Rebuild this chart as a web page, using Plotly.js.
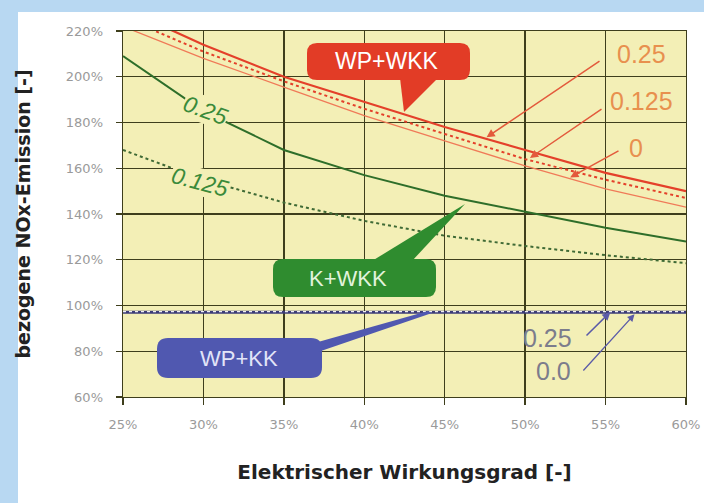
<!DOCTYPE html>
<html>
<head>
<meta charset="utf-8">
<script src="https://cdn.plot.ly/plotly-3.0.1.min.js"></script>
<style>
html,body{margin:0;padding:0;background:#ffffff;}
#wrap{position:relative;width:704px;height:503px;background:#b8d8f2;}
#inner{position:absolute;left:18px;top:12px;width:686px;height:491px;background:#ffffff;}
#chart{position:absolute;left:0;top:0;width:704px;height:503px;}
</style>
</head>
<body>
<div id="wrap"><div id="inner"></div><div id="chart"></div></div>
<script>
// Data (efficiency in %, relative NOx emission in %)
const eta = [25, 30, 35, 40, 45, 50, 55, 60];
const wpwkk_025  = [230, 214, 200, 189, 178, 168, 158, 150];
const wpwkk_0125 = [226, 211, 198, 186, 175, 164, 155, 147];
const wpwkk_0    = [222, 208, 195.5, 183, 172, 161, 151, 143];
const kwkk_025   = [209, 185, 168, 157, 148, 141, 134, 128];
const kwkk_0125  = [168, 155, 145, 137, 130.5, 126, 122, 118.5];
const wpkk_025   = [97.3, 97.3, 97.3, 97.3, 97.3, 97.3, 97.3, 97.3];
const wpkk_0     = [97.1, 97.1, 97.1, 97.1, 97.1, 97.1, 97.1, 97.1];
const xTicks = [25, 30, 35, 40, 45, 50, 55, 60];
const yTicks = [60, 80, 100, 120, 140, 160, 180, 200, 220];

const W = 704, H = 503;
const L = 123, R = 18, T = 31, B = 106;
const pw = W - L - R, ph = H - T - B;
const px = v => (v - L) / pw;          // pixel x -> paper
const py = v => (H - B - v) / ph;      // pixel y -> paper

function roundRect(x0, y0, x1, y1, r) {
  const X0 = px(x0), X1 = px(x1), Y0 = py(y0), Y1 = py(y1);
  const rx = r / pw, ry = r / ph;
  return `M ${X0 + rx},${Y0} L ${X1 - rx},${Y0} Q ${X1},${Y0} ${X1},${Y0 - ry} ` +
         `L ${X1},${Y1 + ry} Q ${X1},${Y1} ${X1 - rx},${Y1} L ${X0 + rx},${Y1} ` +
         `Q ${X0},${Y1} ${X0},${Y1 + ry} L ${X0},${Y0 - ry} Q ${X0},${Y0} ${X0 + rx},${Y0} Z`;
}
function poly(pts) {
  return 'M ' + pts.map(p => px(p[0]) + ',' + py(p[1])).join(' L ') + ' Z';
}

const red = '#e4402a', redLight = '#f07a58', navy = '#3c3c78';

const traces = [
  {x: eta, y: wpwkk_0, mode: 'lines', line: {color: redLight, width: 1.3}, name: 'WP+WKK 0'},
  {x: eta, y: wpwkk_0125, mode: 'lines', line: {color: red, width: 2, dash: 'dot'}, name: 'WP+WKK 0.125'},
  {x: eta, y: wpwkk_025, mode: 'lines', line: {color: red, width: 2.2}, name: 'WP+WKK 0.25'},
  {x: eta, y: kwkk_025, mode: 'lines', line: {color: '#2e6e2a', width: 2}, name: 'K+WKK 0.25'},
  {x: eta, y: kwkk_0125, mode: 'lines', line: {color: '#3f6a35', width: 2, dash: 'dot'}, name: 'K+WKK 0.125'},
  {x: eta, y: wpkk_0, mode: 'lines', line: {color: navy, width: 3}, name: 'WP+KK 0.0'},
  {x: eta, y: wpkk_025, mode: 'lines', line: {color: '#f0f0f4', width: 1.3, dash: 'dot'}, name: 'WP+KK 0.25'}
];

const shapes = [
  {type: 'path', xref: 'paper', yref: 'paper', path: roundRect(307, 43, 470, 80, 10), fillcolor: '#e23c26', line: {width: 0}},
  {type: 'path', xref: 'paper', yref: 'paper', path: poly([[400, 78], [438, 78], [404, 112]]), fillcolor: '#e23c26', line: {width: 0}},
  {type: 'path', xref: 'paper', yref: 'paper', path: roundRect(273, 259, 436, 297, 10), fillcolor: '#2f8c2f', line: {width: 0}},
  {type: 'path', xref: 'paper', yref: 'paper', path: poly([[372, 261], [412, 261], [465, 204]]), fillcolor: '#2f8c2f', line: {width: 0}},
  {type: 'path', xref: 'paper', yref: 'paper', path: roundRect(157, 338, 322, 378, 11), fillcolor: '#5058b0', line: {width: 0}},
  {type: 'path', xref: 'paper', yref: 'paper', path: poly([[318, 342], [318, 352], [432, 313], [428, 311]]), fillcolor: '#5058b0', line: {width: 0}}
];

const ff = 'DejaVu Sans, Verdana, sans-serif';
const lf = 'Liberation Sans, Arial, sans-serif';
function txt(x, y, text, size, color, extra) {
  return Object.assign({xref: 'paper', yref: 'paper', x: px(x), y: py(y), xanchor: 'center', yanchor: 'middle',
    text: text, showarrow: false, font: {family: lf, size: size, color: color}}, extra || {});
}
function arr(x, y, tx, ty, color, w) {
  return {x: x, y: y, xref: 'x', yref: 'y', text: '', showarrow: true, arrowhead: 2, arrowsize: 1.1,
    arrowwidth: w, arrowcolor: color, ax: tx, ay: ty, axref: 'pixel', ayref: 'pixel'};
}
const xPix = v => L + (v - 25) / 35 * pw;
const yPix = v => H - B - (v - 60) / 160 * ph;

const annotations = [
  txt(387, 61, 'WP+WKK', 23, '#ffffff'),
  txt(348, 278, 'K+WKK', 22, '#e2f3dc'),
  txt(239, 358, 'WP+KK', 22, '#e2e4f8'),
  txt(205, 110, '<i>0.25</i>', 23, '#3a8a3a', {textangle: 20, bgcolor: '#f3efb6', borderpad: 0}),
  txt(200, 182, '<i>0.125</i>', 23, '#3a8a3a', {textangle: 15, bgcolor: '#f3efb6', borderpad: 0}),
  txt(641, 54, '0.25', 25, '#e8904e'),
  txt(641, 101, '0.125', 25, '#e8904e'),
  txt(636, 148, '0', 25, '#e8904e', {bgcolor: '#f3efb6', borderpad: 0}),
  txt(547, 338, '0.25', 25, '#7c7c8c'),
  txt(553, 371, '0.0', 25, '#7c7c8c')
];
const arrows = [
  [47.6, 173.5, 601, 60, '#e35a3c', 1.5],
  [50.3, 164.5, 603, 108, '#e35a3c', 1.5],
  [52.8, 156, 620, 150, '#e35a3c', 1.5],
  [55.3, 97.2, 585, 337, '#5a5aa8', 1.5],
  [56.8, 96.2, 582, 372, '#5a5aa8', 1.3]
];
arrows.forEach(a => annotations.push(arr(a[0], a[1], a[2] - xPix(a[0]), a[3] - yPix(a[1]), a[4], a[5])));

const layout = {
  width: W, height: H,
  margin: {l: L, r: R, t: T, b: B, pad: 0},
  paper_bgcolor: 'rgba(0,0,0,0)',
  plot_bgcolor: '#f3efb6',
  showlegend: false,
  xaxis: {
    range: [25, 60], tickvals: xTicks, ticktext: xTicks.map(v => v + '%'),
    showgrid: true, gridcolor: '#3e3e1c', gridwidth: 1.4, zeroline: false,
    showline: true, linecolor: '#3e3e1c', linewidth: 1.4, mirror: true,
    ticks: 'outside', ticklen: 7, tickcolor: '#3e3e1c', tickwidth: 1.4, ticklabelstandoff: 8,
    tickfont: {family: ff, size: 13, color: '#9a9a9a'},
    title: {text: '<b>Elektrischer Wirkungsgrad [-]</b>', font: {family: ff, size: 20, color: '#222222'}, standoff: 34}
  },
  yaxis: {
    range: [60, 220], tickvals: yTicks, ticktext: yTicks.map(v => v + '%'),
    showgrid: true, gridcolor: '#3e3e1c', gridwidth: 1.4, zeroline: false,
    showline: true, linecolor: '#3e3e1c', linewidth: 1.4, mirror: true,
    ticks: 'outside', ticklen: 6, tickcolor: '#3e3e1c', tickwidth: 1.4, ticklabelstandoff: 10,
    tickfont: {family: ff, size: 13, color: '#9a9a9a'},
    title: {text: '<b>bezogene NOx-Emission [-]</b>', font: {family: ff, size: 19, color: '#222222'}, standoff: 30}
  },
  shapes: shapes,
  annotations: annotations
};

Plotly.newPlot('chart', traces, layout, {displayModeBar: false, staticPlot: true});
</script>
</body>
</html>
